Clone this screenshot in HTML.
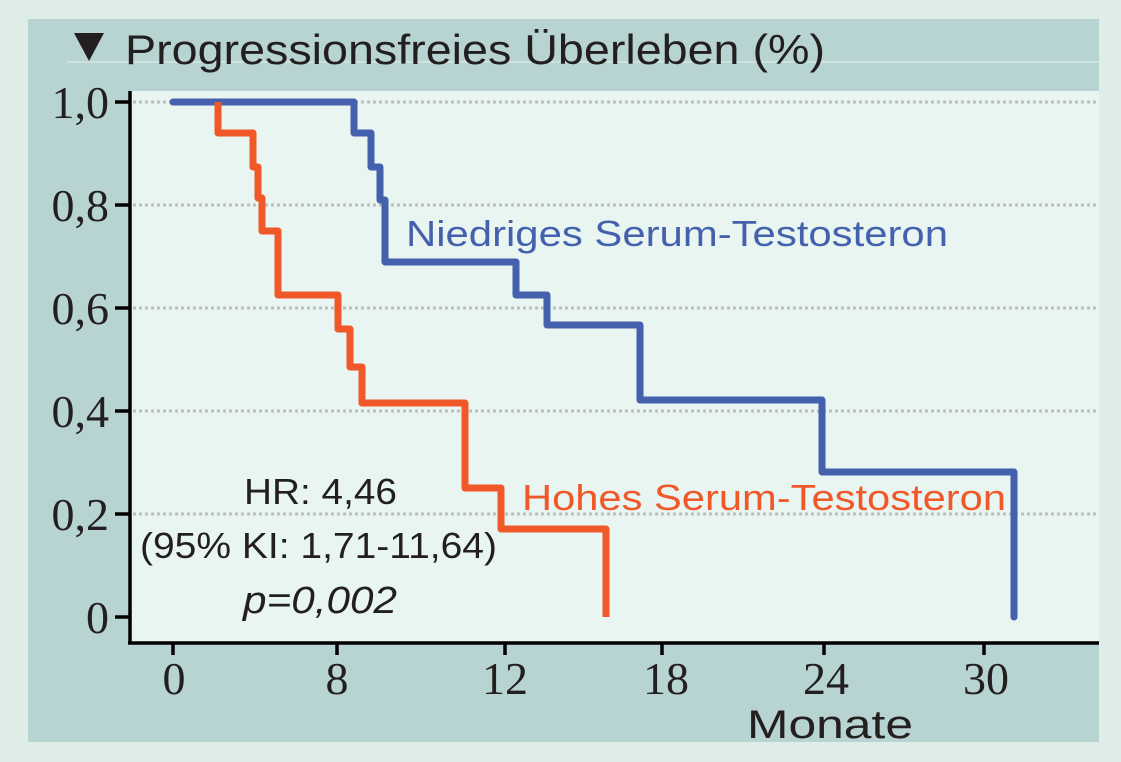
<!DOCTYPE html>
<html><head><meta charset="utf-8"><style>
html,body{margin:0;padding:0;background:#dfede8;}
svg{display:block}
text{font-family:"Liberation Sans",sans-serif;fill:#231f20}
.n{font-family:"Liberation Serif",serif;font-size:46px}
</style></head><body>
<svg width="1121" height="762" viewBox="0 0 1121 762">
<rect x="0" y="0" width="1121" height="762" fill="#dfede8"/>
<rect x="28" y="19" width="1071" height="723" fill="#b7d4d2"/>
<rect x="129" y="91" width="970" height="551" fill="#e8f5f1"/>
<line x1="67" y1="62" x2="1099" y2="62" stroke="#d4e6e3" stroke-width="1.5"/>
<polygon points="74,33 104,33 89,61" fill="#231f20"/>
<text x="125" y="64" font-size="42" textLength="700" lengthAdjust="spacingAndGlyphs">Progressionsfreies Überleben (%)</text>
<g stroke="#bdbdbd" stroke-width="3" stroke-dasharray="3,3">
<line x1="133" y1="102" x2="1099" y2="102"/><line x1="133" y1="205" x2="1099" y2="205"/>
<line x1="133" y1="308" x2="1099" y2="308"/><line x1="133" y1="411" x2="1099" y2="411"/>
<line x1="133" y1="514" x2="1099" y2="514"/></g>
<g stroke="#000" stroke-width="3.5">
<line x1="130" y1="91" x2="130" y2="643"/><line x1="128" y1="643" x2="1099" y2="643"/>
<line x1="115" y1="102" x2="130" y2="102"/><line x1="115" y1="205" x2="130" y2="205"/>
<line x1="115" y1="308" x2="130" y2="308"/><line x1="115" y1="411" x2="130" y2="411"/>
<line x1="115" y1="514" x2="130" y2="514"/><line x1="115" y1="617" x2="130" y2="617"/>
<line x1="173" y1="643" x2="173" y2="655"/><line x1="337" y1="643" x2="337" y2="655"/>
<line x1="505" y1="643" x2="505" y2="655"/><line x1="662" y1="643" x2="662" y2="655"/>
<line x1="824" y1="643" x2="824" y2="655"/><line x1="984" y1="643" x2="984" y2="655"/>
</g>
<g text-anchor="end">
<text class="n" x="109" y="118">1,0</text><text class="n" x="109" y="221">0,8</text>
<text class="n" x="109" y="324">0,6</text><text class="n" x="109" y="427">0,4</text>
<text class="n" x="109" y="530">0,2</text><text class="n" x="109" y="633">0</text></g>
<g text-anchor="middle">
<text class="n" x="174" y="694">0</text><text class="n" x="337" y="694">8</text>
<text class="n" x="505" y="694">12</text><text class="n" x="666" y="694">18</text>
<text class="n" x="826" y="694">24</text><text class="n" x="986" y="694">30</text></g>
<text x="747" y="738" font-size="40" textLength="166" lengthAdjust="spacingAndGlyphs">Monate</text>
<path d="M173,102H354V133H371V167H380V200H385V262H516V295H547V325H640V400H822V472H1014V617" fill="none" stroke="#4560ad" stroke-width="7" stroke-linejoin="round" stroke-linecap="round"/>
<path d="M218,102V133H253V167H258V198H262V231H278V295H338V329H350V367H362V403H465V488H501V529H606V617" fill="none" stroke="#f0582a" stroke-width="7" stroke-linejoin="round" stroke-linecap="butt"/>
<text x="406" y="246" font-size="36" style="fill:#4560ad" textLength="542" lengthAdjust="spacingAndGlyphs">Niedriges Serum-Testosteron</text>
<text x="522" y="510" font-size="36" style="fill:#f0582a" textLength="484" lengthAdjust="spacingAndGlyphs">Hohes Serum-Testosteron</text>
<text x="244" y="504" font-size="36" textLength="153" lengthAdjust="spacingAndGlyphs">HR: 4,46</text>
<text x="140" y="558" font-size="36" textLength="357" lengthAdjust="spacingAndGlyphs">(95% KI: 1,71-11,64)</text>
<text x="243" y="613" font-size="38" font-style="italic" textLength="154" lengthAdjust="spacingAndGlyphs">p=0,002</text>
</svg>
</body></html>
